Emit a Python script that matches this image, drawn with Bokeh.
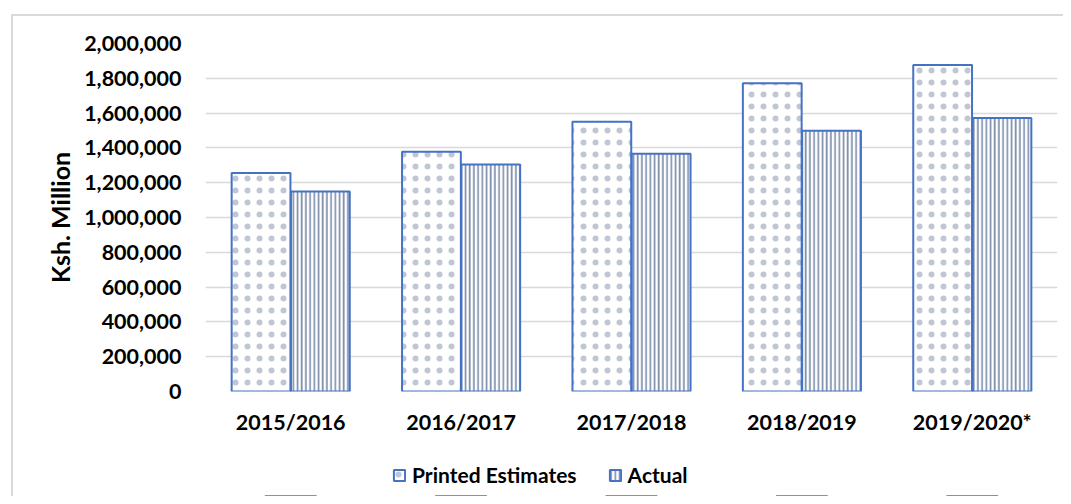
from bokeh.plotting import figure
from bokeh.layouts import column
from bokeh.models import ColumnDataSource, Legend, LegendItem, NumeralTickFormatter, FixedTicker
from bokeh.transform import dodge
from bokeh.embed import file_html
from bokeh.resources import INLINE

years = ["2015/2016", "2016/2017", "2017/2018", "2018/2019", "2019/2020*"]
printed_estimates = [1256000, 1378000, 1551000, 1771000, 1877000]
actual = [1150000, 1305000, 1367000, 1498000, 1572000]
y_ticks = [0, 200000, 400000, 600000, 800000, 1000000, 1200000, 1400000, 1600000, 1800000, 2000000]

src = ColumnDataSource(dict(years=years, printed=printed_estimates, actual=actual))

FONT = "Lato"
BLUE = "#4472c4"
HATCH = "#7f8fab"

bar_style_p = dict(fill_color="white", line_color=BLUE, line_width=2,
                   hatch_pattern="dot", hatch_color=HATCH, hatch_alpha=0.5,
                   hatch_scale=12, hatch_weight=0.5)
bar_style_a = dict(fill_color="white", line_color=BLUE, line_width=2,
                   hatch_pattern="vertical_line", hatch_color=HATCH,
                   hatch_scale=4.2, hatch_weight=1.7)

p = figure(x_range=years, y_range=(0, 2000000), width=1050, height=436,
           output_backend="svg", toolbar_location=None,
           min_border_left=192, min_border_right=6, min_border_top=27, min_border_bottom=61)

r1 = p.vbar(x=dodge("years", -0.174, range=p.x_range), top="printed", width=0.345,
            source=src, **bar_style_p)
r2 = p.vbar(x=dodge("years", 0.174, range=p.x_range), top="actual", width=0.345,
            source=src, **bar_style_a)

p.outline_line_color = None
p.xgrid.grid_line_color = None
p.ygrid.grid_line_color = "#d9d9d9"
p.ygrid.grid_line_width = 1.5
p.yaxis.ticker = FixedTicker(ticks=y_ticks)
p.yaxis.formatter = NumeralTickFormatter(format="0,0")

for ax in (p.xaxis[0], p.yaxis[0]):
    ax.axis_line_color = None
    ax.major_tick_line_color = None
    ax.minor_tick_line_color = None
    ax.major_label_text_font = FONT
    ax.major_label_text_font_style = "bold"
    ax.major_label_text_font_size = "21.5px"
    ax.major_label_text_color = "#000000"

p.yaxis.major_label_standoff = 18
p.xaxis.major_label_standoff = 11
p.yaxis.axis_label = "Ksh. Million"
p.yaxis.axis_label_text_font = FONT
p.yaxis.axis_label_text_font_style = "bold"
p.yaxis.axis_label_text_font_size = "25px"
p.yaxis.axis_label_text_color = "#000000"
p.yaxis.axis_label_standoff = 6
p.x_range.range_padding = 0
p.x_range.factor_padding = 0

# legend in a separate strip below the chart (its bars fall far outside its y range)
lg = figure(width=1050, height=44, x_range=years, y_range=(1e9, 2e9),
            x_axis_type=None, y_axis_type=None,
            output_backend="svg", toolbar_location=None,
            min_border_left=0, min_border_right=0, min_border_top=0, min_border_bottom=0)
lg.outline_line_color = None
lg.grid.grid_line_color = None
l1 = lg.vbar(x="years", top="printed", width=0.3, source=src, **bar_style_p)
l2 = lg.vbar(x="years", top="actual", width=0.3, source=src, **bar_style_a)

legend = Legend(items=[LegendItem(label="Printed Estimates", renderers=[l1]),
                       LegendItem(label="Actual", renderers=[l2])],
                orientation="horizontal", location=(187, 9),
                label_text_font=FONT, label_text_font_style="bold", label_text_font_size="21px",
                label_text_color="#000000", glyph_width=14, glyph_height=14,
                spacing=31, label_standoff=6, border_line_color=None,
                background_fill_alpha=0, margin=0, padding=0)
lg.add_layout(legend)

layout = column(p, lg, spacing=0,
                styles={"border-left": "2px solid #d9d9d9", "border-top": "2px solid #d9d9d9",
                        "margin-left": "11px", "margin-top": "14px"})

open("out.html", "w").write(file_html(layout, INLINE))
